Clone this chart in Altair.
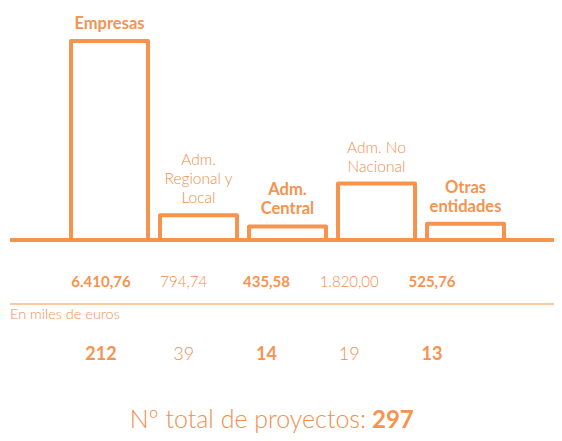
import altair as alt
import pandas as pd

# ---- data ----
categorias = ["Empresas", "Adm. Regional y Local", "Adm. Central", "Adm. No Nacional", "Otras entidades"]
etiquetas = [["Empresas"], ["Adm.", "Regional y", "Local"], ["Adm.", "Central"], ["Adm. No", "Nacional"], ["Otras", "entidades"]]
importes = [6410.76, 794.74, 435.58, 1820.00, 525.76]
proyectos = [212, 39, 14, 19, 13]
negrita = [True, False, True, False, True]
total_proyectos = 297
unidad = "En miles de euros"
titulo = "Nº total de proyectos:"

ORANGE = "#F5934F"
LIGHT = "#F28E4C"
RULE = "#FBC8A2"
FONT = "Lato"


def fmt_es(v):
    s = f"{v:,.2f}"
    return s.replace(",", "X").replace(".", ",").replace("X", ".")


bars = pd.DataFrame({"cat": categorias, "importe": importes, "bold": negrita})

lines = []
for c, lab, v, b in zip(categorias, etiquetas, importes, negrita):
    n = len(lab)
    for i, t in enumerate(lab):
        lines.append({"cat": c, "importe": v, "bold": b, "k": n - 1 - i, "txt": t})
lines = pd.DataFrame(lines)

rows = []
for c, v, n, b in zip(categorias, importes, proyectos, negrita):
    rows.append({"cat": c, "fila": "importe", "txt": fmt_es(v), "bold": b})
    rows.append({"cat": c, "fila": "proyectos", "txt": str(n), "bold": b})
rows = pd.DataFrame(rows)

W, H = 546, 425

xbar = alt.X("cat:N", sort=categorias, axis=None,
             scale=alt.Scale(domain=categorias, range=[57, 502], paddingInner=0.135, paddingOuter=0.0675))
ybar_scale = alt.Scale(domain=[0, max(importes)], range=[232, 33], zero=True, nice=False)
ybar = alt.Y("importe:Q", axis=None, scale=ybar_scale)

xrow = alt.X("cat:N", sort=categorias, axis=None,
             scale=alt.Scale(domain=categorias, range=[51.6, 465.4], paddingInner=0, paddingOuter=0))
yrow = alt.Y("fila:N", axis=None,
             scale=alt.Scale(type="point", domain=["importe", "proyectos"], range=[273.5, 347], padding=0))

bar_layer = alt.Chart(bars).mark_bar(
    fill="white", stroke=ORANGE, strokeWidth=4, strokeJoin="round"
).encode(x=xbar, y=ybar)

baseline = alt.Chart(bars).mark_rule(
    color=ORANGE, strokeWidth=4, strokeCap="round"
).encode(x=alt.value(4), x2=alt.value(W), y=alt.datum(0, scale=ybar_scale, axis=None))

label_layers = []
for k in range(3):
    for b in (True, False):
        flt = f"datum.k == {k} && " + ("datum.bold" if b else "!datum.bold")
        label_layers.append(
            alt.Chart(lines).transform_filter(flt).mark_text(
                font=FONT, fontSize=16.5 if b else 15.5,
                fontWeight="bold" if b else 300,
                color=ORANGE if b else LIGHT,
                baseline="alphabetic", align="center", dy=-12 - 19 * k
            ).encode(x=xbar, y=ybar, text="txt:N")
        )

row_layers = []
for fila, size in (("importe", 15), ("proyectos", 18)):
    for b in (True, False):
        flt = f"datum.fila == '{fila}' && " + ("datum.bold" if b else "!datum.bold")
        row_layers.append(
            alt.Chart(rows).transform_filter(flt).mark_text(
                font=FONT, fontSize=size, fontWeight="bold" if b else 300,
                color=ORANGE if b else LIGHT, baseline="middle", align="center"
            ).encode(x=xrow, y=yrow, text="txt:N")
        )

sep = alt.Chart(bars).mark_rule(color=RULE, strokeWidth=1.5).encode(
    x=alt.value(2), x2=alt.value(W), y=alt.value(296)
)

unit_txt = alt.Chart(pd.DataFrame({"t": [unidad]})).mark_text(
    font=FONT, fontSize=14.5, fontWeight=300, color=LIGHT, align="left", baseline="alphabetic"
).encode(x=alt.value(2), y=alt.value(311), text="t:N")

title_light = alt.Chart(pd.DataFrame({"t": [titulo]})).mark_text(
    font=FONT, fontSize=25, fontWeight=300, color=LIGHT, align="right", baseline="alphabetic"
).encode(x=alt.value(358), y=alt.value(420), text="t:N")

title_bold = alt.Chart(pd.DataFrame({"t": [str(total_proyectos)]})).mark_text(
    font=FONT, fontSize=24, fontWeight="bold", color=ORANGE, align="left", baseline="alphabetic"
).encode(x=alt.value(364), y=alt.value(420), text="t:N")

chart = alt.layer(
    bar_layer, baseline, *label_layers, *row_layers,
    sep, unit_txt, title_light, title_bold
).resolve_scale(
    x="independent", y="independent"
).properties(
    width=W, height=H, autosize=alt.AutoSizeParams(type="none"), padding=0
).configure(background="white", view=alt.ViewConfig(stroke=None))

chart.save("out.html", embed_options={"renderer": "svg", "actions": False})
